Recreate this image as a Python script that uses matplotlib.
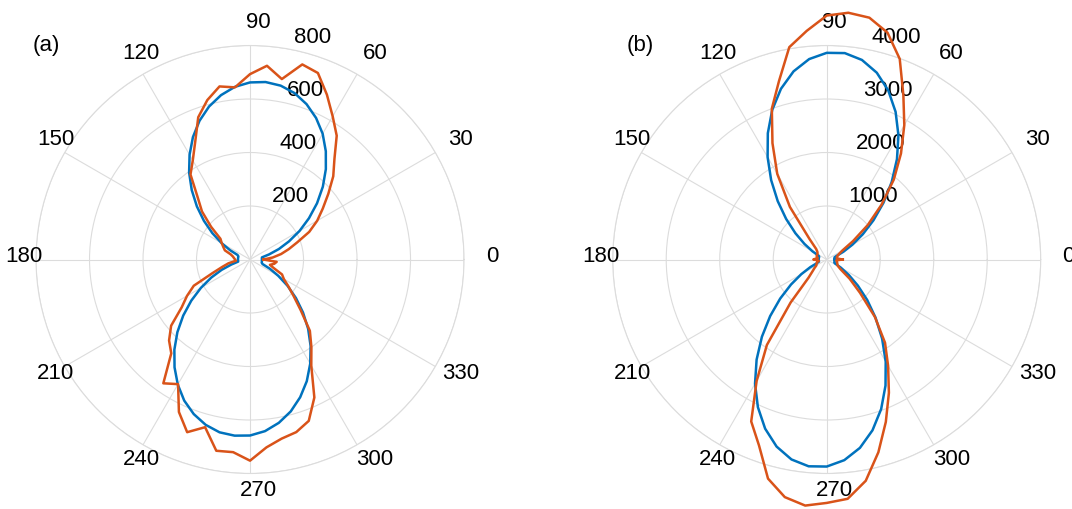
import numpy as np
import matplotlib
matplotlib.use('Agg')
import matplotlib.pyplot as plt
from matplotlib.transforms import offset_copy

plt.rcParams['font.family'] = ['Liberation Sans', 'DejaVu Sans']

# sample angles (deg) of every series
theta_deg = np.arange(0, 360, 5)
theta_ticks = [0, 30, 60, 90, 120, 150, 180, 210, 240, 270, 300, 330]

# panel (a)
rticks_a = [200, 400, 600, 800]
blue_a = [45, 45, 45, 74, 115, 161, 214, 269, 327, 385, 441, 494, 543, 584, 618, 644, 660, 666,
          662, 648, 624, 592, 552, 505, 452, 397, 339, 281, 225, 172, 123, 82, 50, 45, 45, 45,
          45, 45, 45, 72, 113, 160, 212, 268, 326, 384, 440, 492, 540, 582, 615, 640, 656, 661,
          658, 644, 620, 588, 548, 502, 450, 395, 338, 280, 224, 171, 122, 82, 50, 45, 45, 45]
red_a = [50, 85, 118, 150, 188, 244, 290, 332, 382, 440, 491, 565, 618, 680, 742, 755, 685, 727,
         693, 646, 657, 617, 566, 485, 428, 388, 305, 254, 190, 135, 122, 110, 100, 75, 65, 60,
         56, 53, 82, 108, 150, 232, 272, 312, 385, 428, 458, 565, 538, 629, 687, 649, 726, 723,
         752, 705, 680, 668, 642, 569, 458, 400, 348, 268, 213, 175, 146, 132, 95, 77, 92, 100]

# panel (b)
rticks_b = [1000, 2000, 3000, 4000]
blue_b = [150, 150, 150, 150, 192, 345, 555, 822, 1140, 1500, 1889, 2289, 2681, 3046, 3363, 3615, 3788, 3873,
          3863, 3761, 3571, 3304, 2977, 2605, 2210, 1811, 1425, 1073, 764, 509, 310, 168, 150, 150, 150, 150,
          150, 150, 150, 150, 190, 340, 550, 815, 1135, 1495, 1885, 2285, 2680, 3045, 3365, 3620, 3795, 3880,
          3870, 3765, 3575, 3305, 2975, 2600, 2205, 1805, 1420, 1070, 760, 505, 305, 165, 150, 150, 150, 150]
red_b = [300, 200, 190, 200, 220, 260, 340, 600, 1000, 1450, 1950, 2420, 2900, 3390, 3990, 4390, 4590, 4630,
         4560, 4290, 4030, 3450, 3000, 2400, 1850, 1200, 500, 280, 230, 210, 200, 200, 200, 190, 170, 200,
         250, 170, 150, 180, 200, 210, 225, 280, 350, 480, 1050, 1950, 2620, 3340, 3700, 4240, 4510, 4617,
         4550, 4490, 4200, 3730, 3230, 2750, 2294, 1900, 1400, 880, 560, 312, 240, 220, 210, 200, 190, 180]

BLUE = '#0072BD'
RED = '#D95319'
GRID = '#dcdcdc'

fig = plt.figure(figsize=(10.72, 5.10), dpi=100)


def panel(left, blue, red, rticks, tag, tag_x):
    ax = fig.add_axes([left, 0.0696, 0.3993, 0.8392], projection='polar')
    th = np.deg2rad(np.append(theta_deg, 360))
    ax.plot(th, np.append(blue, blue[0]), color=BLUE, lw=1.8, clip_on=False, zorder=3)
    ax.plot(th, np.append(red, red[0]), color=RED, lw=1.8, clip_on=False, zorder=4)
    ax.set_ylim(0, rticks[-1])
    ax.set_xticks(np.deg2rad(theta_ticks))
    ax.set_xticklabels([])
    ax.set_yticks(rticks)
    ax.set_yticklabels([])
    ax.tick_params(length=0)
    ax.grid(True, color=GRID, lw=0.8)
    ax.spines['polar'].set_color(GRID)
    ax.spines['polar'].set_linewidth(0.8)

    for t in theta_ticks:
        a = np.deg2rad(t)
        ax.text(0.5 + (234 * np.cos(a) + 8) / 428, 0.5 + (234 * np.sin(a) + 4) / 428, str(t),
                transform=ax.transAxes, ha='center', va='center', fontsize=16)
    tr = offset_copy(ax.transData, fig=fig, x=14.5, y=5.5, units='dots')
    for r in rticks:
        ax.text(np.deg2rad(82), r, str(r), transform=tr, ha='left', va='baseline',
                fontsize=16, zorder=2)
    fig.text(tag_x / 1072, 1 - 46 / 510, tag, ha='center', va='center', fontsize=16)
    return ax


panel(36 / 1072, blue_a, red_a, rticks_a, '(a)', 46)
panel(612.7 / 1072, blue_b, red_b, rticks_b, '(b)', 640)

fig.savefig('out.png', dpi=100)
